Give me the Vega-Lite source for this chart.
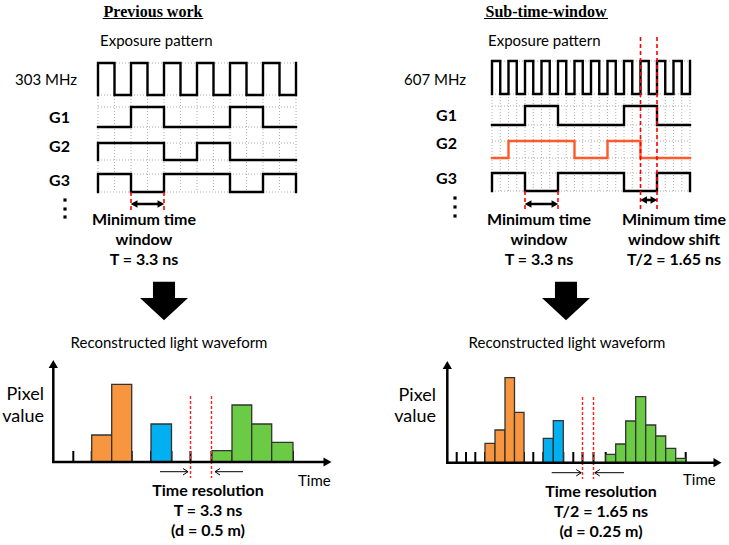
{
  "$schema": "https://vega.github.io/schema/vega-lite/v6.json",
  "width": 729,
  "height": 545,
  "autosize": {"type": "fit", "contains": "padding"},
  "padding": 0,
  "background": "white",
  "config": {"view": {"stroke": null}},
  "datasets": {
    "waves": [
      {"w":"L0","x":98,"y":95},{"w":"L0","x":98,"y":63},{"w":"L0","x":114.5,"y":63},{"w":"L0","x":114.5,"y":95},{"w":"L0","x":131,"y":95},{"w":"L0","x":131,"y":63},{"w":"L0","x":147.5,"y":63},{"w":"L0","x":147.5,"y":95},{"w":"L0","x":164,"y":95},{"w":"L0","x":164,"y":63},{"w":"L0","x":180.5,"y":63},{"w":"L0","x":180.5,"y":95},{"w":"L0","x":197,"y":95},{"w":"L0","x":197,"y":63},{"w":"L0","x":213.5,"y":63},{"w":"L0","x":213.5,"y":95},{"w":"L0","x":230,"y":95},{"w":"L0","x":230,"y":63},{"w":"L0","x":246.5,"y":63},{"w":"L0","x":246.5,"y":95},{"w":"L0","x":263,"y":95},{"w":"L0","x":263,"y":63},{"w":"L0","x":279.5,"y":63},{"w":"L0","x":279.5,"y":95},{"w":"L0","x":296,"y":95},{"w":"L0","x":296,"y":63},
      {"w":"L1","x":98,"y":127},{"w":"L1","x":131,"y":127},{"w":"L1","x":131,"y":107},{"w":"L1","x":164,"y":107},{"w":"L1","x":164,"y":127},{"w":"L1","x":230,"y":127},{"w":"L1","x":230,"y":107},{"w":"L1","x":263,"y":107},{"w":"L1","x":263,"y":127},{"w":"L1","x":296,"y":127},
      {"w":"L2","x":98,"y":160},{"w":"L2","x":98,"y":143},{"w":"L2","x":164,"y":143},{"w":"L2","x":164,"y":160},{"w":"L2","x":197,"y":160},{"w":"L2","x":197,"y":143},{"w":"L2","x":230,"y":143},{"w":"L2","x":230,"y":160},{"w":"L2","x":296,"y":160},
      {"w":"L3","x":98,"y":192},{"w":"L3","x":98,"y":174},{"w":"L3","x":131,"y":174},{"w":"L3","x":131,"y":192},{"w":"L3","x":164,"y":192},{"w":"L3","x":164,"y":174},{"w":"L3","x":230,"y":174},{"w":"L3","x":230,"y":192},{"w":"L3","x":263,"y":192},{"w":"L3","x":263,"y":174},{"w":"L3","x":296,"y":174},{"w":"L3","x":296,"y":192},
      {"w":"R0","x":492,"y":94},{"w":"R0","x":492,"y":61},{"w":"R0","x":500.25,"y":61},{"w":"R0","x":500.25,"y":94},
      {"w":"R0","x":508.5,"y":94},{"w":"R0","x":508.5,"y":61},{"w":"R0","x":516.75,"y":61},{"w":"R0","x":516.75,"y":94},
      {"w":"R0","x":525,"y":94},{"w":"R0","x":525,"y":61},{"w":"R0","x":533.25,"y":61},{"w":"R0","x":533.25,"y":94},
      {"w":"R0","x":541.5,"y":94},{"w":"R0","x":541.5,"y":61},{"w":"R0","x":549.75,"y":61},{"w":"R0","x":549.75,"y":94},
      {"w":"R0","x":558,"y":94},{"w":"R0","x":558,"y":61},{"w":"R0","x":566.25,"y":61},{"w":"R0","x":566.25,"y":94},
      {"w":"R0","x":574.5,"y":94},{"w":"R0","x":574.5,"y":61},{"w":"R0","x":582.75,"y":61},{"w":"R0","x":582.75,"y":94},
      {"w":"R0","x":591,"y":94},{"w":"R0","x":591,"y":61},{"w":"R0","x":599.25,"y":61},{"w":"R0","x":599.25,"y":94},
      {"w":"R0","x":607.5,"y":94},{"w":"R0","x":607.5,"y":61},{"w":"R0","x":615.75,"y":61},{"w":"R0","x":615.75,"y":94},
      {"w":"R0","x":624,"y":94},{"w":"R0","x":624,"y":61},{"w":"R0","x":632.25,"y":61},{"w":"R0","x":632.25,"y":94},
      {"w":"R0","x":640.5,"y":94},{"w":"R0","x":640.5,"y":61},{"w":"R0","x":648.75,"y":61},{"w":"R0","x":648.75,"y":94},
      {"w":"R0","x":657,"y":94},{"w":"R0","x":657,"y":61},{"w":"R0","x":665.25,"y":61},{"w":"R0","x":665.25,"y":94},
      {"w":"R0","x":673.5,"y":94},{"w":"R0","x":673.5,"y":61},{"w":"R0","x":681.75,"y":61},{"w":"R0","x":681.75,"y":94},
      {"w":"R0","x":690,"y":94},{"w":"R0","x":690,"y":61},
      {"w":"R1","x":492,"y":125},{"w":"R1","x":525,"y":125},{"w":"R1","x":525,"y":106},{"w":"R1","x":558,"y":106},{"w":"R1","x":558,"y":125},{"w":"R1","x":624,"y":125},{"w":"R1","x":624,"y":106},{"w":"R1","x":657,"y":106},{"w":"R1","x":657,"y":125},{"w":"R1","x":690,"y":125},
      {"w":"R2","x":492,"y":158},{"w":"R2","x":508.5,"y":158},{"w":"R2","x":508.5,"y":141},{"w":"R2","x":574.5,"y":141},{"w":"R2","x":574.5,"y":158},{"w":"R2","x":607.5,"y":158},{"w":"R2","x":607.5,"y":141},{"w":"R2","x":640.5,"y":141},{"w":"R2","x":640.5,"y":158},{"w":"R2","x":690,"y":158},
      {"w":"R3","x":492,"y":191},{"w":"R3","x":492,"y":173},{"w":"R3","x":525,"y":173},{"w":"R3","x":525,"y":191},{"w":"R3","x":558,"y":191},{"w":"R3","x":558,"y":173},{"w":"R3","x":624,"y":173},{"w":"R3","x":624,"y":191},{"w":"R3","x":657,"y":191},{"w":"R3","x":657,"y":173},{"w":"R3","x":690,"y":173},{"w":"R3","x":690,"y":191}
    ],
    "grid": [
      {"x":98,"y":63,"x2":98,"y2":192},{"x":114.5,"y":63,"x2":114.5,"y2":192},{"x":131,"y":63,"x2":131,"y2":192},{"x":147.5,"y":63,"x2":147.5,"y2":192},{"x":164,"y":63,"x2":164,"y2":192},{"x":180.5,"y":63,"x2":180.5,"y2":192},{"x":197,"y":63,"x2":197,"y2":192},{"x":213.5,"y":63,"x2":213.5,"y2":192},{"x":230,"y":63,"x2":230,"y2":192},{"x":246.5,"y":63,"x2":246.5,"y2":192},{"x":263,"y":63,"x2":263,"y2":192},{"x":279.5,"y":63,"x2":279.5,"y2":192},{"x":296,"y":63,"x2":296,"y2":192},
      {"x":98,"y":63,"x2":296,"y2":63},{"x":98,"y":95,"x2":296,"y2":95},{"x":98,"y":107,"x2":296,"y2":107},{"x":98,"y":127,"x2":296,"y2":127},{"x":98,"y":143,"x2":296,"y2":143},{"x":98,"y":160,"x2":296,"y2":160},{"x":98,"y":174,"x2":296,"y2":174},{"x":98,"y":192,"x2":296,"y2":192},
      {"x":492,"y":61,"x2":492,"y2":191},{"x":500.25,"y":61,"x2":500.25,"y2":191},{"x":508.5,"y":61,"x2":508.5,"y2":191},{"x":516.75,"y":61,"x2":516.75,"y2":191},{"x":525,"y":61,"x2":525,"y2":191},{"x":533.25,"y":61,"x2":533.25,"y2":191},{"x":541.5,"y":61,"x2":541.5,"y2":191},{"x":549.75,"y":61,"x2":549.75,"y2":191},{"x":558,"y":61,"x2":558,"y2":191},{"x":566.25,"y":61,"x2":566.25,"y2":191},{"x":574.5,"y":61,"x2":574.5,"y2":191},{"x":582.75,"y":61,"x2":582.75,"y2":191},{"x":591,"y":61,"x2":591,"y2":191},{"x":599.25,"y":61,"x2":599.25,"y2":191},{"x":607.5,"y":61,"x2":607.5,"y2":191},{"x":615.75,"y":61,"x2":615.75,"y2":191},{"x":624,"y":61,"x2":624,"y2":191},{"x":632.25,"y":61,"x2":632.25,"y2":191},{"x":640.5,"y":61,"x2":640.5,"y2":191},{"x":648.75,"y":61,"x2":648.75,"y2":191},{"x":657,"y":61,"x2":657,"y2":191},{"x":665.25,"y":61,"x2":665.25,"y2":191},{"x":673.5,"y":61,"x2":673.5,"y2":191},{"x":681.75,"y":61,"x2":681.75,"y2":191},{"x":690,"y":61,"x2":690,"y2":191},
      {"x":492,"y":61,"x2":690,"y2":61},{"x":492,"y":94,"x2":690,"y2":94},{"x":492,"y":106,"x2":690,"y2":106},{"x":492,"y":125,"x2":690,"y2":125},{"x":492,"y":141,"x2":690,"y2":141},{"x":492,"y":158,"x2":690,"y2":158},{"x":492,"y":173,"x2":690,"y2":173},{"x":492,"y":191,"x2":690,"y2":191}
    ],
    "redTop": [
      {"x":131,"y":192,"x2":131,"y2":210},{"x":164,"y":192,"x2":164,"y2":210},
      {"x":525,"y":191,"x2":525,"y2":210},{"x":558,"y":191,"x2":558,"y2":210},
      {"x":640.5,"y":37,"x2":640.5,"y2":210},{"x":657,"y":37,"x2":657,"y2":210}
    ],
    "redBot": [
      {"x":190.5,"y":396,"x2":190.5,"y2":478},{"x":211.5,"y":396,"x2":211.5,"y2":478},
      {"x":582.5,"y":397,"x2":582.5,"y2":479},{"x":593.5,"y":397,"x2":593.5,"y2":479}
    ],
    "thick": [
      {"x":53.3,"y":462,"x2":53.3,"y2":366},{"x":52,"y":462,"x2":326,"y2":462},
      {"x":447.3,"y":462.7,"x2":447.3,"y2":367},{"x":446,"y":462.7,"x2":716,"y2":462.7},
      {"x":135,"y":204,"x2":160,"y2":204},{"x":529,"y":204,"x2":554,"y2":204},{"x":644,"y":200,"x2":653.5,"y2":200}
    ],
    "ticks": [
      {"x":73.3,"y":451,"x2":73.3,"y2":462},{"x":91.7,"y":451,"x2":91.7,"y2":462},{"x":111.7,"y":451,"x2":111.7,"y2":462},{"x":131.7,"y":451,"x2":131.7,"y2":462},{"x":151,"y":451,"x2":151,"y2":462},{"x":171.5,"y":451,"x2":171.5,"y2":462},{"x":190.5,"y":451,"x2":190.5,"y2":462},{"x":211.5,"y":451,"x2":211.5,"y2":462},{"x":232,"y":451,"x2":232,"y2":462},{"x":251.7,"y":451,"x2":251.7,"y2":462},{"x":271.7,"y":451,"x2":271.7,"y2":462},{"x":293,"y":451,"x2":293,"y2":462},
      {"x":456.7,"y":452,"x2":456.7,"y2":462.7},{"x":466,"y":452,"x2":466,"y2":462.7},{"x":475.3,"y":452,"x2":475.3,"y2":462.7},{"x":485,"y":452,"x2":485,"y2":462.7},{"x":495,"y":452,"x2":495,"y2":462.7},{"x":505,"y":452,"x2":505,"y2":462.7},{"x":514.5,"y":452,"x2":514.5,"y2":462.7},{"x":524,"y":452,"x2":524,"y2":462.7},{"x":533.3,"y":452,"x2":533.3,"y2":462.7},{"x":543.3,"y":452,"x2":543.3,"y2":462.7},{"x":553.3,"y":452,"x2":553.3,"y2":462.7},{"x":563.3,"y":452,"x2":563.3,"y2":462.7},{"x":573.3,"y":452,"x2":573.3,"y2":462.7},{"x":582.5,"y":452,"x2":582.5,"y2":462.7},{"x":593.5,"y":452,"x2":593.5,"y2":462.7},{"x":605.7,"y":452,"x2":605.7,"y2":462.7},{"x":685.7,"y":452,"x2":685.7,"y2":462.7}
    ],
    "thin": [
      {"x":160,"y":471.7,"x2":188,"y2":471.7},{"x":183,"y":468.5,"x2":188,"y2":471.7},{"x":183,"y":475,"x2":188,"y2":471.7},
      {"x":243,"y":471.7,"x2":215,"y2":471.7},{"x":220,"y":468.5,"x2":215,"y2":471.7},{"x":220,"y":475,"x2":215,"y2":471.7},
      {"x":551.7,"y":472.7,"x2":581.2,"y2":472.7},{"x":576.2,"y":469.5,"x2":581.2,"y2":472.7},{"x":576.2,"y":476,"x2":581.2,"y2":472.7},
      {"x":624,"y":472.7,"x2":594.8,"y2":472.7},{"x":599.8,"y":469.5,"x2":594.8,"y2":472.7},{"x":599.8,"y":476,"x2":594.8,"y2":472.7},
      {"x":102.7,"y":18.5,"x2":203.3,"y2":18.5},{"x":484,"y":18.5,"x2":608,"y2":18.5}
    ],
    "heads": [
      {"x":134.1,"y":204,"d":"l"},{"x":160.9,"y":204,"d":"r"},
      {"x":528.1,"y":204,"d":"l"},{"x":554.9,"y":204,"d":"r"},
      {"x":643.6,"y":200,"d":"l"},{"x":653.9,"y":200,"d":"r"}
    ],
    "axheads": [
      {"x":53.3,"y":364,"d":"u"},{"x":327.5,"y":462,"d":"r"},
      {"x":447.3,"y":365,"d":"u"},{"x":717.5,"y":462.7,"d":"r"}
    ],
    "big": [{"x":164,"y":301},{"x":566,"y":301}],
    "dots": [{"x":65,"y":200},{"x":65,"y":209},{"x":65,"y":217},{"x":455,"y":198},{"x":455,"y":207},{"x":455,"y":216}],
    "bars": [
      {"g":"o","x":91.7,"x2":111.7,"y":435,"y0":462},{"g":"o","x":111.7,"x2":131.7,"y":384.3,"y0":462},
      {"g":"b","x":151,"x2":171.5,"y":424,"y0":462},
      {"g":"g","x":212,"x2":232,"y":450.7,"y0":462},{"g":"g","x":232,"x2":251.7,"y":405,"y0":462},{"g":"g","x":251.7,"x2":271.7,"y":424,"y0":462},{"g":"g","x":271.7,"x2":293,"y":442.3,"y0":462},
      {"g":"o","x":485,"x2":495,"y":443.3,"y0":462.7},{"g":"o","x":495,"x2":505,"y":430,"y0":462.7},{"g":"o","x":505,"x2":514.5,"y":377.7,"y0":462.7},{"g":"o","x":514.5,"x2":524,"y":412.3,"y0":462.7},
      {"g":"b","x":543.3,"x2":553.3,"y":438.3,"y0":462.7},{"g":"b","x":553.3,"x2":563.3,"y":420.7,"y0":462.7},
      {"g":"g","x":605.7,"x2":615.7,"y":454.3,"y0":462.7},{"g":"g","x":615.7,"x2":625.7,"y":444,"y0":462.7},{"g":"g","x":625.7,"x2":635.7,"y":421,"y0":462.7},{"g":"g","x":635.7,"x2":645.7,"y":396.7,"y0":462.7},{"g":"g","x":645.7,"x2":655.7,"y":425,"y0":462.7},{"g":"g","x":655.7,"x2":665.7,"y":436,"y0":462.7},{"g":"g","x":665.7,"x2":675.7,"y":448.3,"y0":462.7},{"g":"g","x":675.7,"x2":685.7,"y":458.3,"y0":462.7}
    ],
    "tTitle": [{"x":153,"y":12,"t":"Previous work"},{"x":546,"y":12,"t":"Sub-time-window"}],
    "tNormL": [{"x":100,"y":41,"t":"Exposure pattern"},{"x":488,"y":41,"t":"Exposure pattern"},{"x":298,"y":481,"t":"Time"},{"x":683,"y":480,"t":"Time"}],
    "tNormR": [{"x":77,"y":80,"t":"303 MHz"},{"x":466,"y":80,"t":"607 MHz"}],
    "tNormC": [{"x":169,"y":343,"t":"Reconstructed  light waveform"},{"x":567,"y":343,"t":"Reconstructed  light waveform"}],
    "tBigR": [{"x":44,"y":395,"t":"Pixel"},{"x":44,"y":417,"t":"value"},{"x":436,"y":396,"t":"Pixel"},{"x":436,"y":417,"t":"value"}],
    "tBoldR": [{"x":70,"y":118,"t":"G1"},{"x":70,"y":147,"t":"G2"},{"x":70,"y":181,"t":"G3"},{"x":457,"y":116,"t":"G1"},{"x":457,"y":144,"t":"G2"},{"x":457,"y":179,"t":"G3"}],
    "tBoldC": [
      {"x":144,"y":220,"t":"Minimum time"},{"x":144,"y":240,"t":"window"},{"x":144,"y":260,"t":"T = 3.3 ns"},
      {"x":539,"y":220,"t":"Minimum time"},{"x":539,"y":240,"t":"window"},{"x":539,"y":260,"t":"T = 3.3 ns"},
      {"x":674,"y":220,"t":"Minimum time"},{"x":674,"y":240,"t":"window shift"},{"x":674,"y":260,"t":"T/2 = 1.65 ns"},
      {"x":208,"y":491,"t":"Time resolution"},{"x":208,"y":511,"t":"T = 3.3 ns"},{"x":208,"y":531,"t":"(d = 0.5 m)"},
      {"x":601,"y":492,"t":"Time resolution"},{"x":601,"y":512,"t":"T/2 = 1.65 ns"},{"x":601,"y":532,"t":"(d = 0.25 m)"}
    ]
  },
  "encoding": {
    "x": {"field": "x", "type": "quantitative", "scale": {"domain": [0, 729], "nice": false, "zero": false}, "axis": null},
    "y": {"field": "y", "type": "quantitative", "scale": {"domain": [0, 545], "nice": false, "zero": false, "reverse": true}, "axis": null}
  },
  "layer": [
    {
      "data": {"name": "grid"},
      "mark": {"type": "rule", "color": "#9a9a9a", "strokeWidth": 0.8, "strokeDash": [1, 2]},
      "encoding": {"x2": {"field": "x2"}, "y2": {"field": "y2"}}
    },
    {
      "data": {"name": "waves"},
      "transform": [{"window": [{"op": "row_number", "as": "i"}]}],
      "mark": {"type": "line", "strokeWidth": 2.4, "strokeJoin": "miter", "strokeCap": "square"},
      "encoding": {
        "detail": {"field": "w"},
        "order": {"field": "i", "type": "quantitative"},
        "stroke": {"field": "w", "type": "nominal", "legend": null,
          "scale": {"domain": ["L0","L1","L2","L3","R0","R1","R2","R3"], "range": ["#000000","#000000","#000000","#000000","#000000","#000000","#FF5A2A","#000000"]}}
      }
    },
    {
      "data": {"name": "redTop"},
      "mark": {"type": "rule", "color": "#FF0000", "strokeWidth": 1.6, "strokeDash": [4, 3]},
      "encoding": {"x2": {"field": "x2"}, "y2": {"field": "y2"}}
    },
    {
      "data": {"name": "ticks"},
      "mark": {"type": "rule", "color": "#000000", "strokeWidth": 2},
      "encoding": {"x2": {"field": "x2"}, "y2": {"field": "y2"}}
    },
    {
      "data": {"name": "bars"},
      "mark": {"type": "rect", "stroke": "#333333", "strokeWidth": 1.3, "opacity": 1},
      "encoding": {
        "x2": {"field": "x2"}, "y2": {"field": "y0"},
        "fill": {"field": "g", "type": "nominal", "legend": null,
          "scale": {"domain": ["o", "b", "g"], "range": ["#F7963F", "#00B0F0", "#6CCB45"]}}
      }
    },
    {
      "data": {"name": "redBot"},
      "mark": {"type": "rule", "stroke": "#FF2020", "strokeWidth": 1.4, "strokeDash": [3, 2]},
      "encoding": {"x2": {"field": "x2"}, "y2": {"field": "y2"}}
    },
    {
      "data": {"name": "thick"},
      "mark": {"type": "rule", "color": "#000000", "strokeWidth": 2.5},
      "encoding": {"x2": {"field": "x2"}, "y2": {"field": "y2"}}
    },
    {
      "data": {"name": "thin"},
      "mark": {"type": "rule", "color": "#000000", "strokeWidth": 1},
      "encoding": {"x2": {"field": "x2"}, "y2": {"field": "y2"}}
    },
    {
      "data": {"name": "heads"},
      "mark": {"type": "point", "filled": true, "opacity": 1, "color": "#000000", "size": 60},
      "encoding": {"shape": {"field": "d", "type": "nominal", "legend": null,
        "scale": {"domain": ["l", "r", "u"], "range": ["triangle-left", "triangle-right", "triangle-up"]}}}
    },
    {
      "data": {"name": "axheads"},
      "mark": {"type": "point", "filled": true, "opacity": 1, "color": "#000000", "size": 85},
      "encoding": {"shape": {"field": "d", "type": "nominal", "legend": null,
        "scale": {"domain": ["l", "r", "u"], "range": ["triangle-left", "triangle-right", "triangle-up"]}}}
    },
    {
      "data": {"name": "big"},
      "mark": {"type": "point", "filled": true, "opacity": 1, "color": "#000000", "size": 2304,
        "shape": "M-0.46,-0.8 L0.46,-0.8 L0.46,-0.125 L1,-0.125 L0,0.8 L-1,-0.125 L-0.46,-0.125 Z"}
    },
    {
      "data": {"name": "dots"},
      "mark": {"type": "point", "filled": true, "opacity": 1, "color": "#000000", "size": 10, "shape": "square"}
    },
    {
      "data": {"name": "tTitle"},
      "mark": {"type": "text", "font": "Liberation Serif", "fontWeight": "bold", "fontSize": 16, "align": "center", "baseline": "middle", "color": "#000000"},
      "encoding": {"text": {"field": "t"}}
    },
    {
      "data": {"name": "tNormL"},
      "mark": {"type": "text", "font": "Lato", "fontSize": 15, "align": "left", "baseline": "middle", "color": "#000000"},
      "encoding": {"text": {"field": "t"}}
    },
    {
      "data": {"name": "tNormR"},
      "mark": {"type": "text", "font": "Lato", "fontSize": 15, "align": "right", "baseline": "middle", "color": "#000000"},
      "encoding": {"text": {"field": "t"}}
    },
    {
      "data": {"name": "tNormC"},
      "mark": {"type": "text", "font": "Lato", "fontSize": 15, "align": "center", "baseline": "middle", "color": "#000000"},
      "encoding": {"text": {"field": "t"}}
    },
    {
      "data": {"name": "tBigR"},
      "mark": {"type": "text", "font": "Lato", "fontSize": 18, "align": "right", "baseline": "middle", "color": "#000000"},
      "encoding": {"text": {"field": "t"}}
    },
    {
      "data": {"name": "tBoldR"},
      "mark": {"type": "text", "font": "Lato", "fontWeight": "bold", "fontSize": 16, "align": "right", "baseline": "middle", "color": "#000000"},
      "encoding": {"text": {"field": "t"}}
    },
    {
      "data": {"name": "tBoldC"},
      "mark": {"type": "text", "font": "Lato", "fontWeight": "bold", "fontSize": 16, "align": "center", "baseline": "middle", "color": "#000000"},
      "encoding": {"text": {"field": "t"}}
    }
  ]
}
